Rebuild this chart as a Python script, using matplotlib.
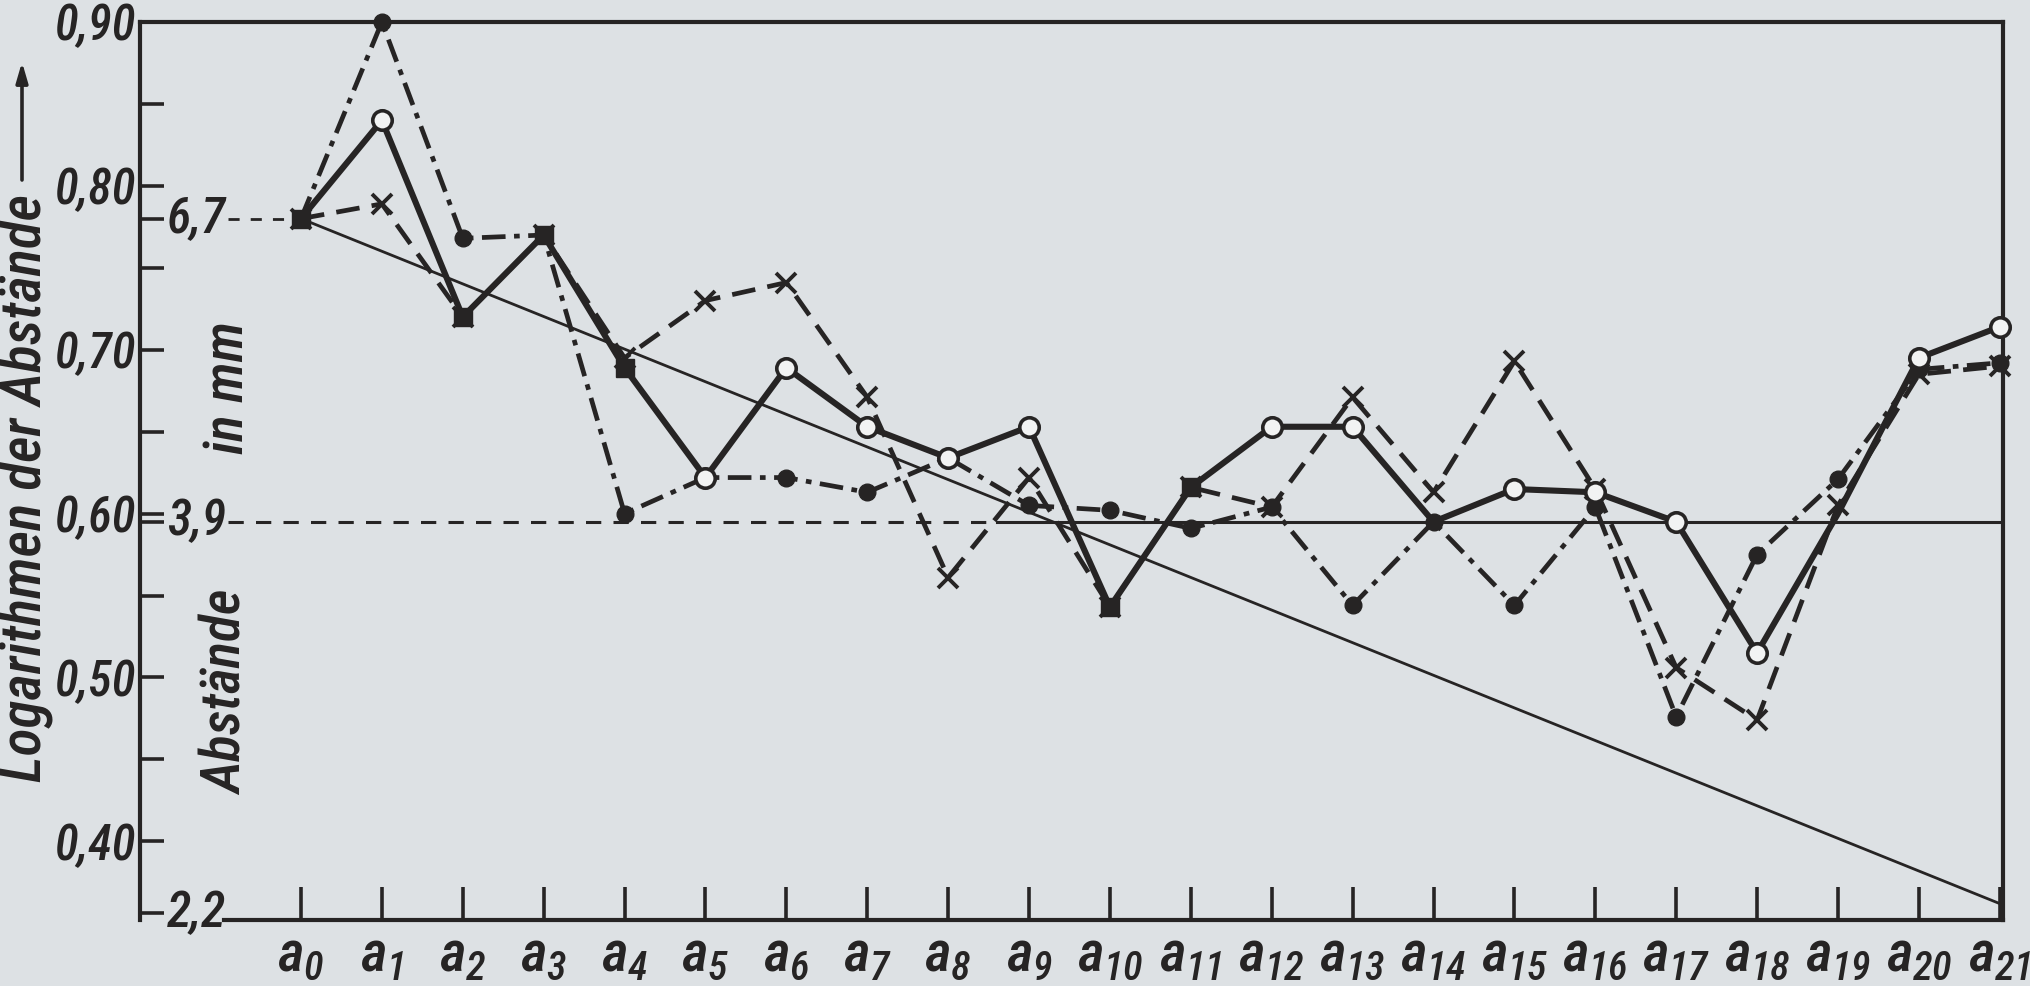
import matplotlib
matplotlib.use("Agg")
import matplotlib.pyplot as plt
from matplotlib import font_manager as fm
from matplotlib.font_manager import FontProperties
from matplotlib.textpath import TextPath
from matplotlib.ticker import FixedLocator, NullFormatter

# ---------------- data ----------------
positions = list(range(22))
tick_labels = [r"$a_{%d}$" % i for i in positions]

# solid line, open circles
series_solid = [0.780, 0.840, 0.720, 0.770, 0.689, 0.622, 0.689, 0.653, 0.634, 0.653, 0.543,
                0.616, 0.653, 0.653, 0.595, 0.615, 0.613, 0.595, 0.515, 0.600, 0.695, 0.714]
# dash-dot line, filled dots
series_dashdot = [0.780, 0.900, 0.768, 0.770, 0.600, 0.622, 0.622, 0.613, 0.634, 0.605, 0.602,
                  0.591, 0.604, 0.544, 0.595, 0.544, 0.604, 0.476, 0.575, 0.621, 0.688, 0.692]
# dashed line, x markers
series_dashed = [0.780, 0.789, 0.720, 0.770, 0.695, 0.730, 0.741, 0.671, 0.561, 0.622, 0.543,
                 0.616, 0.604, 0.671, 0.613, 0.693, 0.615, 0.506, 0.474, 0.605, 0.685, 0.690]

trend_x = [0, 21]
trend_y = [0.780, 0.362]

ref_values = [0.780, 0.595, 0.356]          # 6,7 / 3,9 / 2,2 mm on the log scale
ref_labels = ["6,7", "3,9", "2,2"]

ytick_major = [0.40, 0.50, 0.60, 0.70, 0.80, 0.90]
ytick_major_labels = ["0,40", "0,50", "0,60", "0,70", "0,80", "0,90"]
ytick_minor = [0.45, 0.55, 0.65, 0.75, 0.85]

# ---------------- fonts ----------------
CANDIDATES = ["Roboto Condensed", "Barlow Condensed", "Archivo Narrow", "PT Sans Narrow",
              "Fira Sans Condensed", "Encode Sans Condensed", "Open Sans Condensed",
              "Liberation Sans Narrow", "Roboto", "DejaVu Sans"]
avail = {}
for f in fm.fontManager.ttflist:
    avail.setdefault(f.name, set()).add(f.style)
chosen = next((c for c in CANDIDATES if c in avail and avail[c] & {"italic", "oblique"}), None)
if chosen is None:
    chosen = next((c for c in CANDIDATES if c in avail), "DejaVu Sans")
FONT = [chosen, "DejaVu Sans"]
WEIGHT = "medium"

plt.rcParams["font.family"] = FONT
plt.rcParams["font.weight"] = WEIGHT
plt.rcParams["mathtext.fontset"] = "custom"
plt.rcParams["mathtext.it"] = f"{chosen}:italic:medium"
plt.rcParams["mathtext.rm"] = f"{chosen}:italic:medium"
plt.rcParams["mathtext.sf"] = f"{chosen}:italic:medium"

DPI = 100
FP_IT = FontProperties(family=FONT, style="italic", weight=WEIGHT)


def fit(s, target_px):
    """font size (pt) so that string s is about target_px wide"""
    w = TextPath((0, 0), s, size=100, prop=FP_IT).get_extents().width
    return target_px * 72.0 / w if w > 0 else 30


fs_ytick = fit("0,90", 78)
fs_ref = fit("2,2", 58)
fs_xtick = fit(r"$a_{0}$", 44)
fs_title = fit("Logarithmen der Abstände", 585)
fs_side = fit("Abstände", 205)

# ---------------- style ----------------
BG = "#dde1e4"
INK = "#262424"

W, H = 2030, 986
fig = plt.figure(figsize=(W / DPI, H / DPI), dpi=DPI, facecolor=BG)
left, right, top, bottom = 140, 2003, 22, 920
ax = fig.add_axes([left / W, 1 - bottom / H, (right - left) / W, (bottom - top) / H])
ax.set_facecolor(BG)

ax.set_xlim(-1.99, 21.04)
ax.set_ylim(0.352, 0.900)

for s in ["top", "left", "right", "bottom"]:
    ax.spines[s].set_color(INK)
    ax.spines[s].set_linewidth(3)
ax.spines["bottom"].set_bounds(-0.95, 21.04)

# x ticks
ax.xaxis.set_major_locator(FixedLocator(positions))
ax.set_xticklabels(tick_labels)
ax.tick_params(axis="x", direction="in", length=24, width=2.6, color=INK,
               labelsize=fs_xtick, pad=6, labelcolor=INK)

# y ticks
ax.yaxis.set_major_locator(FixedLocator(ytick_major))
ax.set_yticklabels(ytick_major_labels, fontstyle="italic", fontweight=WEIGHT)
ax.yaxis.set_minor_locator(FixedLocator(ytick_minor + ref_values))
ax.yaxis.set_minor_formatter(NullFormatter())
ax.tick_params(axis="y", which="both", direction="in", length=17, width=2.6, color=INK,
               labelsize=fs_ytick, pad=3, labelcolor=INK)

# mm labels inside the axis
for v, t in zip(ref_values, ref_labels):
    ax.text(-1.66, v, t, ha="left", va="center", fontsize=fs_ref, fontstyle="italic",
            fontweight=WEIGHT, color=INK, clip_on=False)

# reference lines
ax.plot([-0.9, trend_x[0]], [ref_values[0], ref_values[0]], color=INK, lw=2.0,
        dashes=(4, 4), zorder=2)
ax.plot([-0.9, 8.6], [ref_values[1], ref_values[1]], color=INK, lw=2.2,
        dashes=(5, 4), zorder=2)
ax.plot([8.6, 21.04], [ref_values[1], ref_values[1]], color=INK, lw=2.2, zorder=2)
ax.plot(trend_x, trend_y, color=INK, lw=2.0, zorder=2)

# series
ax.plot(positions, series_dashed, color=INK, lw=3.4, dashes=(5, 2.6),
        marker="x", ms=15, mew=2.8, mec=INK, zorder=3, clip_on=False)
ax.plot(positions, series_dashdot, color=INK, lw=3.4, dashes=(5, 1.8, 1.2, 1.8),
        marker="o", ms=12, mfc=INK, mec=INK, zorder=4, clip_on=False)

open_idx = [1, 5, 6, 7, 8, 9, 12, 13, 15, 16, 17, 18, 20, 21]
blob_idx = [0, 2, 3, 4, 10, 11]
ax.plot(positions, series_solid, color=INK, lw=4.4, solid_capstyle="round", zorder=5,
        clip_on=False)
ax.plot(positions, series_solid, ls="none", marker="o", ms=14, mfc="#f2f3f3", mec=INK,
        mew=2.6, markevery=open_idx, zorder=6, clip_on=False)
ax.plot(positions, series_solid, ls="none", marker="s", ms=13, mfc=INK, mec=INK,
        markevery=blob_idx, zorder=6, clip_on=False)

# axis titles
fig.text(25 / W, 1 - 488 / H, "Logarithmen der Abstände", rotation=90,
         ha="center", va="center", fontsize=fs_title, fontstyle="italic", color=INK)
ax.annotate("", xy=(22 / W, 1 - 62 / H), xytext=(22 / W, 1 - 180 / H),
            xycoords="figure fraction", textcoords="figure fraction",
            arrowprops=dict(arrowstyle="-|>,head_length=1.2,head_width=0.35",
                            color=INK, lw=2.6, shrinkA=0, shrinkB=0))
fig.text(227 / W, 1 - 693 / H, "Abstände", rotation=90, ha="center", va="center",
         fontsize=fs_side, fontstyle="italic", color=INK)
fig.text(228 / W, 1 - 388 / H, "in mm", rotation=90, ha="center", va="center",
         fontsize=fs_side, fontstyle="italic", color=INK)

fig.savefig("out.png", dpi=DPI, facecolor=BG)
